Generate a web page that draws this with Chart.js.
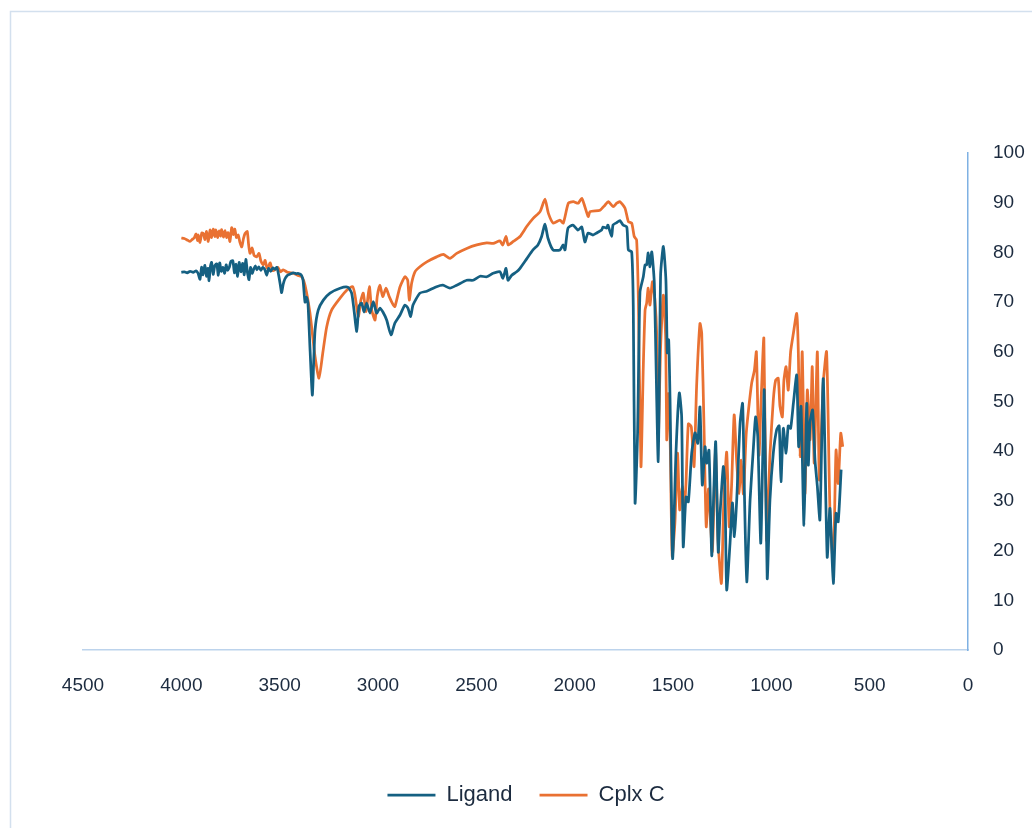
<!DOCTYPE html>
<html>
<head>
<meta charset="utf-8">
<title>IR spectra – Ligand vs Cplx C</title>
<script src="https://cdn.jsdelivr.net/npm/chart.js@4/dist/chart.umd.min.js"></script>
<style>
  html, body { margin: 0; padding: 0; background: #ffffff; }
  #wrap { width: 1032px; height: 828px; }
</style>
</head>
<body>
<div id="wrap"><canvas id="ir" width="1032" height="828"></canvas></div>
<script>
// Wavenumber (cm-1) and transmittance (%) for each spectrum
const ligandWn = [
  4000, 3985, 3970, 3955, 3940, 3925, 3915, 3905, 3897, 3890, 3880, 3872, 3865, 3859, 3852, 3846,
  3838, 3830, 3820, 3812, 3805, 3797, 3788, 3780, 3772, 3765, 3756, 3748, 3738, 3730, 3722, 3714,
  3706, 3697, 3688, 3680, 3672, 3664, 3656, 3648, 3640, 3632, 3624, 3616, 3606, 3596, 3586, 3576,
  3566, 3556, 3546, 3534, 3524, 3514, 3504, 3495, 3490, 3482, 3473, 3460, 3448, 3430, 3415, 3407,
  3395, 3388, 3381, 3371, 3363, 3356, 3345, 3334, 3327, 3320, 3304, 3278, 3244, 3193, 3153, 3134,
  3122, 3108, 3097, 3083, 3071, 3058, 3041, 3024, 3007, 2990, 2975, 2956, 2934, 2914, 2888, 2863,
  2848, 2834, 2822, 2787, 2752, 2702, 2670, 2634, 2600, 2549, 2517, 2481, 2447, 2415, 2380, 2365,
  2349, 2339, 2320, 2295, 2278, 2244, 2212, 2187, 2168, 2151, 2136, 2110, 2075, 2059, 2049, 2034,
  2009, 1983, 1964, 1948, 1932, 1907, 1888, 1863, 1856, 1837, 1831, 1812, 1805, 1786, 1770, 1754,
  1735, 1727, 1710, 1702, 1693, 1680, 1668, 1651, 1642, 1634, 1626, 1617, 1608, 1595, 1575, 1563,
  1549, 1536, 1529, 1522, 1515, 1502, 1485, 1468, 1456, 1448, 1434, 1422, 1405, 1388, 1374, 1363,
  1351, 1337, 1329, 1317, 1303, 1295, 1283, 1270, 1261, 1244, 1236, 1227, 1210, 1198, 1188, 1176,
  1159, 1146, 1137, 1125, 1108, 1092, 1080, 1069, 1054, 1044, 1036, 1021, 1007, 990, 973, 960,
  951, 939, 925, 914, 902, 888, 871, 861, 849, 834, 820, 812, 803, 790, 778, 766,
  753, 736, 716, 702, 685, 671, 660, 645
];
const ligandT = [
  76.0, 76.1, 75.9, 76.2, 76.0, 76.3, 75.8, 74.6, 77.0, 75.5, 77.4, 75.2, 76.8, 74.3, 77.2, 78.0,
  75.6, 77.3, 77.7, 75.4, 77.9, 76.2, 77.0, 75.8, 77.5, 76.4, 77.0, 78.2, 78.3, 75.9, 77.6, 75.2,
  78.0, 76.1, 77.8, 75.5, 78.6, 76.0, 74.5, 77.0, 75.8, 76.6, 77.3, 76.5, 77.1, 76.4, 77.0, 76.6,
  75.4, 76.8, 76.2, 76.9, 76.6, 77.0, 75.2, 73.0, 71.9, 73.6, 74.7, 75.4, 75.6, 75.9, 75.7, 75.8,
  75.6, 75.3, 74.4, 70.0, 71.0, 69.7, 60.0, 51.3, 58.0, 64.4, 68.4, 70.4, 71.8, 72.8, 73.0, 71.8,
  68.4, 64.1, 69.1, 69.8, 68.0, 69.8, 67.8, 70.1, 67.8, 68.8, 68.0, 66.4, 63.4, 65.8, 67.4, 69.4,
  68.8, 67.1, 69.4, 71.8, 72.2, 73.1, 73.4, 72.8, 73.4, 74.4, 74.4, 75.2, 75.1, 75.8, 76.1, 74.8,
  76.8, 74.4, 75.4, 76.1, 76.8, 78.7, 80.5, 81.5, 83.2, 85.7, 82.9, 80.5, 80.5, 81.5, 80.5, 84.9,
  85.5, 84.5, 85.1, 82.1, 83.9, 83.5, 83.9, 84.5, 85.1, 84.9, 85.5, 83.2, 85.5, 86.0, 86.4, 85.5,
  85.1, 80.5, 80.1, 69.1, 29.6, 43.7, 72.0, 75.1, 77.5, 77.5, 79.9, 77.1, 80.1, 73.8, 37.9, 75.5,
  81.2, 74.4, 59.8, 62.4, 50.3, 18.4, 39.6, 51.7, 46.9, 20.8, 30.8, 29.8, 39.6, 43.7, 41.6, 48.9,
  33.2, 40.9, 37.6, 40.2, 19.0, 28.8, 41.9, 19.7, 27.2, 36.9, 32.9, 12.1, 21.5, 29.6, 22.8, 30.2,
  45.6, 49.6, 31.8, 13.7, 30.2, 40.2, 46.9, 42.9, 21.5, 38.2, 52.3, 14.4, 30.2, 39.6, 44.3, 45.1,
  33.9, 44.6, 39.6, 45.1, 44.6, 49.6, 55.3, 40.9, 49.0, 25.1, 49.6, 37.2, 45.9, 48.3, 38.2, 32.9,
  26.2, 54.6, 18.7, 28.5, 13.4, 27.5, 25.8, 36.3
];

const cplxWn = [
  4000, 3985, 3970, 3956, 3945, 3935, 3925, 3918, 3914, 3905, 3896, 3888, 3880, 3872, 3863, 3854,
  3846, 3838, 3830, 3824, 3816, 3808, 3800, 3795, 3786, 3778, 3770, 3762, 3753, 3744, 3736, 3728,
  3720, 3711, 3702, 3693, 3684, 3676, 3665, 3658, 3651, 3640, 3630, 3617, 3605, 3595, 3583, 3574,
  3565, 3558, 3548, 3537, 3524, 3510, 3495, 3482, 3460, 3445, 3431, 3410, 3388, 3371, 3346, 3320,
  3300, 3281, 3261, 3236, 3193, 3159, 3129, 3117, 3100, 3087, 3075, 3061, 3044, 3032, 3015, 3004,
  2990, 2976, 2959, 2943, 2922, 2914, 2888, 2863, 2849, 2841, 2829, 2812, 2787, 2752, 2702, 2668,
  2634, 2600, 2549, 2498, 2447, 2414, 2380, 2366, 2349, 2338, 2312, 2278, 2244, 2210, 2176, 2151,
  2134, 2109, 2075, 2058, 2032, 2007, 1982, 1964, 1948, 1931, 1922, 1871, 1846, 1829, 1804, 1786,
  1770, 1744, 1727, 1710, 1697, 1685, 1676, 1663, 1651, 1642, 1634, 1626, 1617, 1605, 1592, 1583,
  1575, 1563, 1549, 1537, 1532, 1523, 1515, 1504, 1490, 1477, 1466, 1453, 1443, 1434, 1422, 1407,
  1393, 1380, 1363, 1354, 1342, 1331, 1319, 1300, 1284, 1271, 1254, 1242, 1227, 1214, 1202, 1189,
  1176, 1164, 1153, 1142, 1128, 1116, 1100, 1086, 1076, 1063, 1051, 1038, 1024, 1007, 990, 978,
  965, 956, 944, 936, 925, 914, 902, 888, 871, 863, 854, 843, 829, 817, 803, 792,
  782, 766, 756, 736, 719, 702, 685, 671, 660, 647, 637
];
const cplxT = [
  82.9, 82.8, 82.5, 82.2, 82.6, 82.9, 83.7, 82.4, 83.5, 82.0, 83.9, 83.8, 82.6, 84.2, 82.2, 84.5,
  83.0, 84.7, 83.2, 84.5, 83.0, 84.3, 83.3, 84.6, 83.1, 84.4, 83.0, 84.0, 82.2, 85.0, 83.6, 84.7,
  83.0, 83.5, 82.0, 81.1, 82.8, 83.8, 84.2, 81.6, 79.8, 80.9, 79.4, 79.1, 79.8, 78.2, 77.5, 78.4,
  76.9, 77.1, 77.9, 76.4, 76.5, 77.0, 76.1, 76.5, 76.0, 75.9, 75.8, 75.4, 75.1, 73.4, 67.8, 59.0,
  54.7, 59.7, 65.0, 68.4, 70.8, 72.4, 73.1, 71.4, 67.1, 70.4, 71.8, 68.1, 73.1, 68.4, 66.4, 71.1,
  73.4, 71.1, 72.8, 71.1, 69.4, 69.1, 73.1, 75.1, 74.4, 70.4, 73.8, 76.1, 77.1, 78.1, 79.1, 79.6,
  78.8, 79.8, 80.8, 81.5, 81.9, 81.8, 82.3, 81.5, 83.2, 81.5, 82.2, 83.2, 85.2, 86.9, 88.2, 90.7,
  87.9, 85.9, 86.5, 85.9, 89.9, 90.2, 89.9, 90.9, 89.2, 87.2, 88.2, 88.5, 89.5, 90.2, 89.2, 89.9,
  90.2, 88.9, 86.2, 85.9, 83.2, 82.5, 70.4, 36.9, 57.0, 68.4, 69.8, 72.8, 69.4, 74.1, 70.4, 63.7,
  42.3, 61.0, 71.4, 62.4, 42.3, 51.6, 43.6, 18.9, 25.8, 39.6, 28.2, 32.9, 28.6, 33.5, 45.5, 44.9,
  36.9, 53.0, 65.7, 63.7, 44.3, 24.8, 32.4, 19.8, 40.2, 22.1, 13.4, 29.6, 39.8, 24.8, 33.2, 47.3,
  37.8, 31.5, 38.2, 31.4, 43.3, 48.3, 53.7, 56.3, 60.0, 39.2, 51.3, 62.7, 22.1, 39.2, 50.3, 54.3,
  54.7, 49.0, 46.9, 54.3, 57.0, 52.3, 60.0, 63.7, 67.7, 60.4, 38.9, 60.0, 31.5, 52.3, 42.3, 57.0,
  37.6, 60.0, 34.2, 53.7, 60.0, 28.2, 17.4, 40.2, 33.5, 43.6, 40.9
];

// Axis ticks
const xTicks = [4500, 4000, 3500, 3000, 2500, 2000, 1500, 1000, 500, 0];
const yTicks = [0, 10, 20, 30, 40, 50, 60, 70, 80, 90, 100];

const seriesNames = ['Ligand', 'Cplx C'];
const seriesColors = ['#156082', '#E97132'];

const toPoints = (xs, ys) => xs.map((x, i) => ({ x: x, y: ys[i] }));

const FONT = "'Liberation Sans', Arial, sans-serif";
const TEXT = '#1c2b3f';

// Thin frame around the whole chart
const frame = {
  id: 'frame',
  beforeDraw(chart) {
    const c = chart.ctx;
    c.save();
    c.strokeStyle = '#d3e0ee';
    c.lineWidth = 1.5;
    c.strokeRect(10.5, 11.5, 1100, 900);
    c.restore();
  }
};

new Chart(document.getElementById('ir'), {
  type: 'line',
  data: {
    datasets: [
      {
        label: seriesNames[0],
        data: toPoints(ligandWn, ligandT),
        borderColor: seriesColors[0],
        backgroundColor: seriesColors[0],
        borderWidth: 2.75,
        pointRadius: 0,
        tension: 0.2
      },
      {
        label: seriesNames[1],
        data: toPoints(cplxWn, cplxT),
        borderColor: seriesColors[1],
        backgroundColor: seriesColors[1],
        borderWidth: 2.75,
        pointRadius: 0,
        tension: 0.2
      }
    ]
  },
  options: {
    responsive: false,
    animation: false,
    events: [],
    layout: { padding: { left: 20, top: 153, right: 0, bottom: 12 } },
    plugins: {
      legend: {
        position: 'bottom',
        labels: {
          usePointStyle: true,
          pointStyle: 'line',
          pointStyleWidth: 48,
          padding: 27,
          color: TEXT,
          font: { family: FONT, size: 22 }
        }
      },
      tooltip: { enabled: false }
    },
    scales: {
      x: {
        type: 'linear',
        reverse: true,
        min: 0,
        max: 4500,
        afterBuildTicks(scale) { scale.ticks = xTicks.map(v => ({ value: v })); },
        afterFit(scale) { scale.height = 107; },
        grid: { display: false, drawTicks: false },
        border: { display: true, color: '#bcd3ec', width: 1.5 },
        ticks: {
          padding: 24,
          maxRotation: 0,
          color: TEXT,
          font: { family: FONT, size: 19 },
          callback: v => String(v)
        }
      },
      y: {
        position: 'right',
        min: 0,
        max: 100,
        afterBuildTicks(scale) { scale.ticks = yTicks.map(v => ({ value: v })); },
        afterFit(scale) { scale.width = 64; },
        grid: { display: false, drawTicks: false },
        border: { display: true, color: '#7fb1e3', width: 1.5 },
        ticks: {
          padding: 25,
          color: TEXT,
          font: { family: FONT, size: 19 },
          callback: v => String(v)
        }
      },
      // empty left gutter so the plot starts where the 4500 tick sits
      gutter: {
        type: 'linear',
        position: 'left',
        display: true,
        afterFit(scale) { scale.width = 63; },
        grid: { display: false, drawTicks: false },
        border: { display: false },
        ticks: { display: false }
      }
    }
  },
  plugins: [frame]
});
</script>
</body>
</html>
